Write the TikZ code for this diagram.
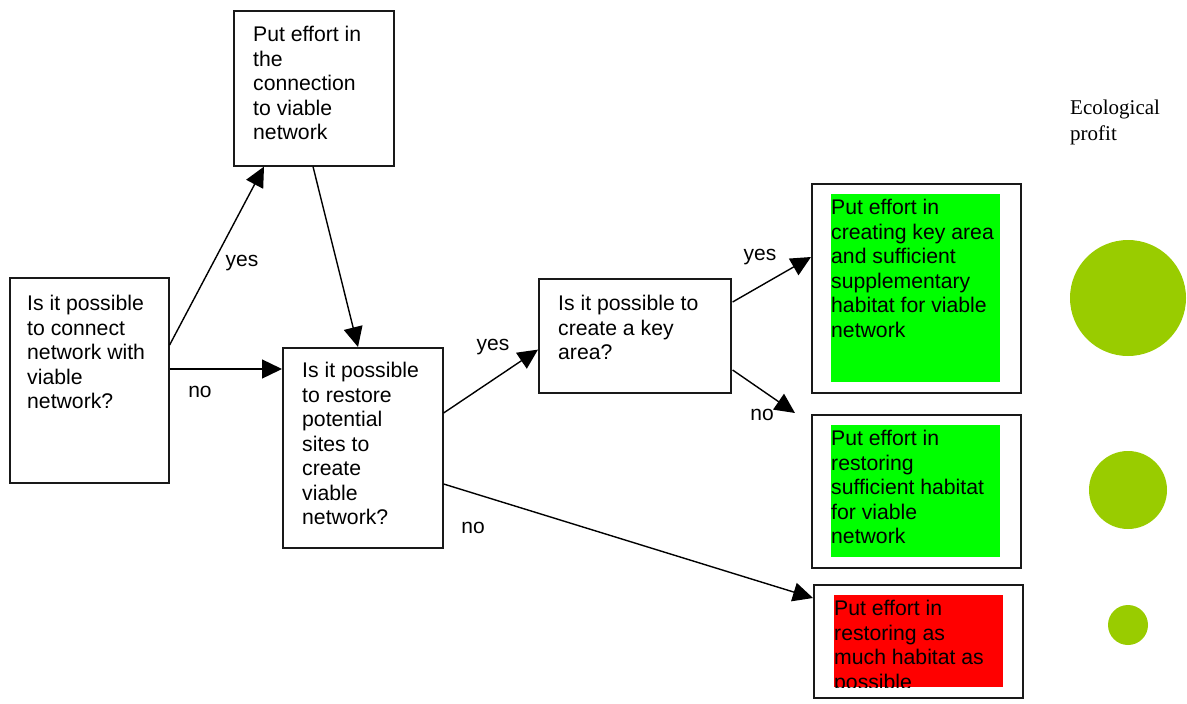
\documentclass[tikz,border=0pt]{standalone}
\usepackage{fontspec}
\setmainfont{Liberation Sans}
\newfontfamily\profitfont{Liberation Serif}
\usepackage{tikz}
\usetikzlibrary{arrows.meta,positioning}
\usepackage{xcolor}
\definecolor{ecogreen}{RGB}{0,255,0}
\definecolor{ecored}{RGB}{255,0,0}
\definecolor{ecolime}{RGB}{153,204,0}
\tikzstyle{question} = [rectangle, draw=black!90, line width=1.6pt, anchor=north west, inner sep=0pt]
\tikzstyle{effort} = [rectangle, anchor=north west, inner sep=0pt]
\tikzstyle{boxtext} = [anchor=north west, inner sep=0pt, align=left, font=\fontsize{21.2}{24.5}\selectfont]
\tikzstyle{answer} = [inner sep=0pt, font=\fontsize{21}{24.5}\selectfont]
\tikzstyle{arrow} = [line width=1.4pt, -{Triangle[length=20pt,width=19pt]}]
\tikzstyle{profit} = [circle, fill=ecolime, inner sep=0pt]

\begin{document}
\begin{tikzpicture}[x=1pt, y=-1pt]
\useasboundingbox (0,0) rectangle (1187,704);
% questions
\node (connect) [question, minimum width=159pt, minimum height=205pt] at (9,277) {};
\node (connecttxt) [boxtext] at ([shift={(18,18)}]connect.north west) {Is it possible\\to connect\\network with\\viable\\network?};
\node (link) [question, minimum width=160pt, minimum height=155pt] at (233,10) {};
\node (linktxt) [boxtext] at ([shift={(20,16)}]link.north west) {Put effort in\\the\\connection\\to viable\\network};
\node (restore) [question, minimum width=160pt, minimum height=200pt] at (282,347) {};
\node (restoretxt) [boxtext] at ([shift={(20,15)}]restore.north west) {Is it possible\\to restore\\potential\\sites to\\create\\viable\\network?};
\node (keyarea) [question, minimum width=192pt, minimum height=114pt] at (538,278) {};
\node (keyareatxt) [boxtext] at ([shift={(20,17)}]keyarea.north west) {Is it possible to\\create a key\\area?};

% outcomes
\node (create) [question, minimum width=209pt, minimum height=209pt] at (811,183) {};
\node (createfill) [effort, fill=ecogreen, minimum width=169pt, minimum height=188pt] at (831,194) {};
\node (createtxt) [boxtext] at ([shift={(0,5)}]createfill.north west) {Put effort in\\creating key area\\and sufficient\\supplementary\\habitat for viable\\network};
\node (suff) [question, minimum width=209pt, minimum height=153pt] at (811,414) {};
\node (sufffill) [effort, fill=ecogreen, minimum width=169pt, minimum height=132pt] at (831,425) {};
\node (sufftxt) [boxtext] at ([shift={(0,5)}]sufffill.north west) {Put effort in\\restoring\\sufficient habitat\\for viable\\network};
\node (much) [question, minimum width=209pt, minimum height=113pt] at (813,584) {};
\node (muchfill) [effort, fill=ecored, minimum width=169pt, minimum height=92pt] at (834,595) {};
\begin{scope}
\clip (muchfill.south west) rectangle (muchfill.north east);
\node (muchtxt) [boxtext] at ([shift={(0,5)}]muchfill.north west) {Put effort in\\restoring as\\much habitat as\\possible};
\end{scope}

% arrows
\draw[arrow] ([shift={(0,68)}]connect.north east) -- ([shift={(31,0)}]link.south west);
\draw[arrow] ([shift={(0,92)}]connect.north east) -- ([shift={(0,22)}]restore.north west);
\draw[arrow] ([shift={(80,0)}]link.south west) -- ([shift={(76,0)}]restore.north west);
\draw[arrow] ([shift={(0,66)}]restore.north east) -- ([shift={(0,-44)}]keyarea.south west);
\draw[arrow] ([shift={(1,24)}]keyarea.north east) -- ([shift={(0,74)}]create.north west);
\draw[arrow] ([shift={(1,92)}]keyarea.north east) -- ([shift={(-16,-1)}]suff.north west);
\draw[arrow] ([shift={(0,137)}]restore.north east) -- ([shift={(0,14)}]much.north west);

\node (yes1) [answer] at (242,263) {yes};
\node (no1) [answer] at (200,392) {no};
\node (yes2) [answer] at (493,347) {yes};
\node (no2) [answer] at (473,528) {no};
\node (yes3) [answer] at (760,257) {yes};
\node (no3) [answer] at (762,415) {no};

% ecological profit
\node (profittxt) [anchor=north west, inner sep=0pt, align=left, font=\profitfont\fontsize{21}{25.5}\selectfont] at (1070,100) {Ecological\\profit};
\node (big) [profit, minimum size=116pt] at (1128,298) {};
\node (mid) [profit, minimum size=78pt] at (1128,490) {};
\node (small) [profit, minimum size=40pt] at (1128,625) {};
\end{tikzpicture}
\end{document}
